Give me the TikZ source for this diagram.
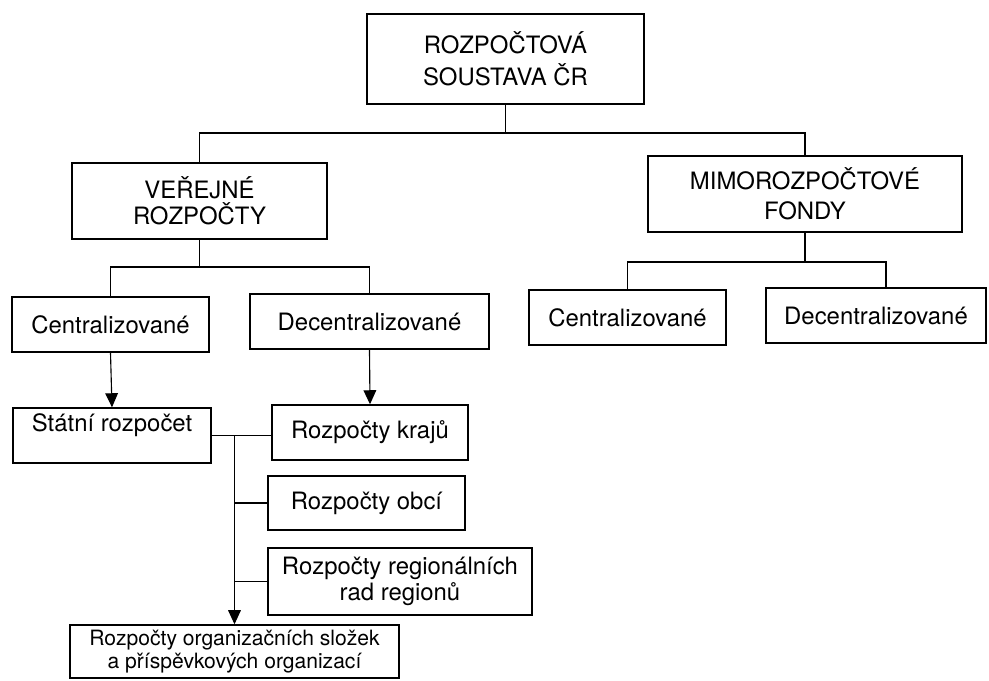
\documentclass[tikz,border=0pt]{standalone}
\usepackage{fontspec}
\setmainfont{TeX Gyre Heros}
\usetikzlibrary{arrows.meta}
\tikzstyle{chart} = [x = 0.025cm, y = -0.025cm]
\tikzstyle{budgetBoxStyle} = [draw=black, line width=1pt, fill=white, inner sep=0pt, align=center, font=\fontsize{17}{19}\selectfont]
\tikzstyle{branchLine} = [color=black, line width=0.8pt]
\tikzstyle{arrowLine} = [branchLine, -{Triangle[length=10pt, width=9pt]}]
\newcommand{\budgetBox}[7][]{\node [budgetBoxStyle, #1, minimum width = {(#5 - #3) * 0.025cm}, minimum height = {(#6 - #4) * 0.025cm}] (#2) at ({(#3 + #5) / 2}, {(#4 + #6) / 2}) {#7};}

\begin{document}
\begin{tikzpicture}[chart]
  \useasboundingbox (0,0) rectangle (989,680);

  % top level
  \budgetBox[font=\fontsize{17}{23}\selectfont]{top}{367}{14}{644}{104}{ROZPOČTOVÁ\\SOUSTAVA ČR}
  \budgetBox[font=\fontsize{17}{18.5}\selectfont]{verejne}{72}{163}{327}{239}{VEŘEJNÉ\\ROZPOČTY}
  \budgetBox[font=\fontsize{17}{21}\selectfont]{mimo}{648}{156}{962}{232}{MIMOROZPOČTOVÉ\\FONDY}

  \coordinate (mainBar) at (0,133);
  \draw [branchLine] (top.south) -- (top.south |- mainBar);
  \draw [branchLine] (verejne.north) |- (mainBar -| top.south) -| (mimo.north);

  % second level
  \budgetBox{verejneCentral}{12}{297}{209}{352}{Centralizované}
  \budgetBox{verejneDecentral}{250}{294}{489}{349}{Decentralizované}
  \budgetBox{mimoCentral}{529}{290}{726}{345}{Centralizované}
  \budgetBox{mimoDecentral}{766}{288}{986}{343}{Decentralizované}

  \coordinate (verejneBar) at (0,267);
  \coordinate (mimoBar) at (0,262);
  \draw [branchLine] (verejne.south) -- (verejne.south |- verejneBar);
  \draw [branchLine] (verejneCentral.north) |- (verejneBar -| verejne.south) -| (verejneDecentral.north);
  \draw [branchLine] (mimo.south) -- (mimo.south |- mimoBar);
  \draw [branchLine] (mimoCentral.north) |- (mimoBar -| mimo.south) -| ([xshift=0.25cm]mimoDecentral.north);

  % budgets
  \budgetBox{statni}{13}{408}{211}{463}{Státní rozpočet\\\mbox{}}
  \budgetBox{kraje}{272}{405}{468}{460}{Rozpočty krajů}
  \budgetBox{obce}{268}{476}{465}{530}{Rozpočty obcí}
  \budgetBox[font=\fontsize{17}{18.5}\selectfont]{regiony}{268}{548}{532}{615}{Rozpočty regionálních\\rad regionů}
  \budgetBox[font=\fontsize{15}{16.5}\selectfont]{organizace}{70}{625}{399}{678}{Rozpočty organizačních složek\\a příspěvkových organizací}

  \draw [arrowLine] (verejneCentral.south) -- (statni.north);
  \draw [arrowLine] (verejneDecentral.south) -- (kraje.north);

  \coordinate (trunkTop) at (organizace.north |- statni.east);
  \draw [branchLine] (statni.east) -- (statni.east -| kraje.west);
  \draw [arrowLine] (trunkTop) -- (organizace.north);
  \draw [branchLine] (trunkTop |- obce.west) -- (obce.west);
  \draw [branchLine] (trunkTop |- regiony.west) -- (regiony.west);
\end{tikzpicture}
\end{document}
